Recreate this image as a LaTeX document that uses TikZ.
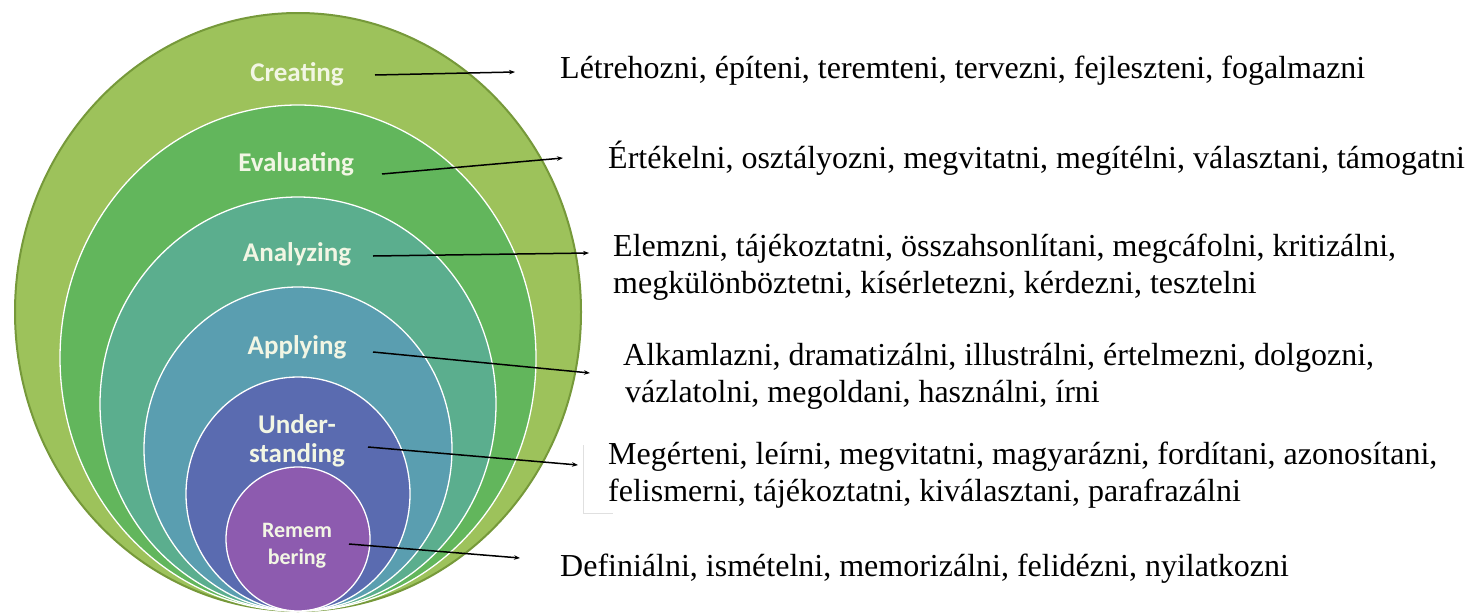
\documentclass[tikz,border=0pt]{standalone}
\usepackage{fontspec}
\setmainfont{Liberation Serif}
\newfontfamily\lblfont{Carlito}
\usetikzlibrary{arrows.meta}
\definecolor{cCreate}{HTML}{9DC25B}
\definecolor{cEval}{HTML}{62B65C}
\definecolor{cAnal}{HTML}{5BAE8E}
\definecolor{cApply}{HTML}{5A9EB0}
\definecolor{cUnder}{HTML}{5A6BB0}
\definecolor{cRemem}{HTML}{8D5BAF}
\definecolor{cEdge}{HTML}{76993A}
\definecolor{lblcol}{HTML}{F2F6E4}
\begin{document}
\begin{tikzpicture}[x=1pt,y=-1pt,
  ring/.style={draw=white, line width=1.3pt},
  lbl/.style={font=\lblfont\bfseries\fontsize{27}{29}\selectfont, text=lblcol, align=center, inner sep=0pt},
  lblsmall/.style={font=\lblfont\bfseries\fontsize{22}{27}\selectfont, text=lblcol, align=center, inner sep=0pt},
  verbs/.style={font=\fontsize{32}{37}\selectfont, anchor=base west, inner sep=0pt},
  arr/.style={-{Stealth[length=6pt,width=4.5pt]}, line width=1.5pt, black}]
\useasboundingbox (0,0) rectangle (1469,613);
\fill[white] (0,0) rectangle (1469,613);
% nested rings
\filldraw[fill=cCreate, draw=cEdge, line width=2pt] (298,312) ellipse [x radius=283pt, y radius=299pt];
\filldraw[fill=cEval, ring] (298,358) ellipse [x radius=238pt, y radius=253pt];
\filldraw[fill=cAnal, ring] (298,404) ellipse [x radius=198pt, y radius=207pt];
\filldraw[fill=cApply, ring] (298,449) ellipse [x radius=154pt, y radius=162pt];
\filldraw[fill=cUnder, ring] (298,494) ellipse [x radius=112pt, y radius=117pt];
\filldraw[fill=cRemem, ring] (298,539) ellipse [x radius=72pt, y radius=72pt];
% labels
\node[lbl] (creating) at (297,74) {Creating};
\node[lbl] (evaluating) at (296,164) {Evaluating};
\node[lbl] (analyzing) at (297,254) {Analyzing};
\node[lbl] (applying) at (297,347) {Applying};
\node[lbl] (understanding) at (297,441) {Under-\\standing};
\node[lblsmall] (remembering) at (297,546) {Remem\\bering};
% arrow ends
\coordinate (c1s) at (375,75);  \coordinate (c1e) at (515,72);
\coordinate (c2s) at (382,174); \coordinate (c2e) at (563,158);
\coordinate (c3s) at (373,256); \coordinate (c3e) at (589,253);
\coordinate (c4s) at (373,352); \coordinate (c4e) at (590,373);
\coordinate (c5s) at (368,447); \coordinate (c5e) at (578,465);
\coordinate (c6s) at (349,544); \coordinate (c6e) at (520,558);
\draw[arr] (c1s) -- (c1e);
\draw[arr] (c2s) -- (c2e);
\draw[arr] (c3s) -- (c3e);
\draw[arr] (c4s) -- (c4e);
\draw[arr] (c5s) -- (c5e);
\draw[arr] (c6s) -- (c6e);
% faint frame edge
\draw[black!12, line width=1pt] (583,445) -- (583,513) -- (613,513);
% verbs
\node[verbs] (t1) at (560,78) {Létrehozni, építeni, teremteni, tervezni, fejleszteni, fogalmazni};
\node[verbs] (t2) at (608,168) {Értékelni, osztályozni, megvitatni, megítélni, választani, támogatni};
\node[verbs] (t3a) at (613,256) {Elemzni, tájékoztatni, összahsonlítani, megcáfolni, kritizálni,};
\node[verbs] (t3b) at (613,293) {megkülönböztetni, kísérletezni, kérdezni, tesztelni};
\node[verbs] (t4a) at (623,365) {Alkamlazni, dramatizálni, illustrálni, értelmezni, dolgozni,};
\node[verbs] (t4b) at (625,402) {vázlatolni, megoldani, használni, írni};
\node[verbs] (t5a) at (608,464) {Megérteni, leírni, megvitatni, magyarázni, fordítani, azonosítani,};
\node[verbs] (t5b) at (608,501) {felismerni, tájékoztatni, kiválasztani, parafrazálni};
\node[verbs] (t6) at (560,576) {Definiálni, ismételni, memorizálni, felidézni, nyilatkozni};
\end{tikzpicture}
\end{document}
